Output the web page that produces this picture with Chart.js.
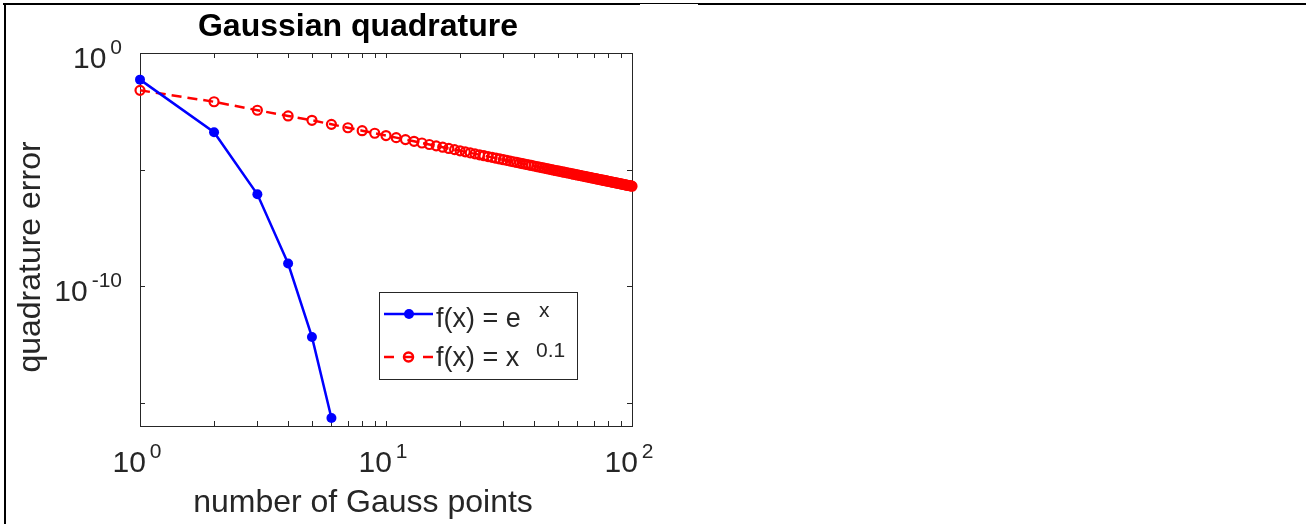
<!DOCTYPE html>
<html>
<head>
<meta charset="utf-8">
<script src="https://cdn.jsdelivr.net/npm/chart.js@4.4.1/dist/chart.umd.min.js"></script>
<style>
  html, body { margin: 0; padding: 0; background: #fff; overflow: hidden; }
  canvas { display: block; }
</style>
</head>
<body>
<canvas id="chart" width="1306" height="524"></canvas>
<script>
// --- data ---
const expN = [1, 2, 3, 4, 5, 6];
const expErr = [0.072, 4.0e-4, 8.7e-7, 9.3e-10, 6.6e-13, 2.2e-16];

const powN = [1, 2, 3, 4, 5, 6, 7, 8, 9, 10,
    11, 12, 13, 14, 15, 16, 17, 18, 19, 20,
    21, 22, 23, 24, 25, 26, 27, 28, 29, 30,
    31, 32, 33, 34, 35, 36, 37, 38, 39, 40,
    41, 42, 43, 44, 45, 46, 47, 48, 49, 50,
    51, 52, 53, 54, 55, 56, 57, 58, 59, 60,
    61, 62, 63, 64, 65, 66, 67, 68, 69, 70,
    71, 72, 73, 74, 75, 76, 77, 78, 79, 80,
    81, 82, 83, 84, 85, 86, 87, 88, 89, 90,
    91, 92, 93, 94, 95, 96, 97, 98, 99, 100];
const powErr = [0.025, 8.1e-3, 3.5e-3, 2.0e-3, 1.3e-3, 8.70e-4, 6.23e-4, 4.66e-4, 3.61e-4, 2.87e-4,
    2.34e-4, 1.93e-4, 1.63e-4, 1.38e-4, 1.19e-4, 1.04e-4, 9.09e-5, 8.03e-5, 7.14e-5, 6.39e-5,
    5.74e-5, 5.19e-5, 4.72e-5, 4.30e-5, 3.94e-5, 3.61e-5, 3.33e-5, 3.08e-5, 2.85e-5, 2.65e-5,
    2.47e-5, 2.30e-5, 2.16e-5, 2.02e-5, 1.90e-5, 1.78e-5, 1.68e-5, 1.59e-5, 1.50e-5, 1.42e-5,
    1.34e-5, 1.28e-5, 1.21e-5, 1.15e-5, 1.10e-5, 1.05e-5, 1.00e-5, 9.55e-6, 9.13e-6, 8.74e-6,
    8.37e-6, 8.03e-6, 7.70e-6, 7.40e-6, 7.11e-6, 6.84e-6, 6.58e-6, 6.33e-6, 6.10e-6, 5.88e-6,
    5.68e-6, 5.48e-6, 5.30e-6, 5.12e-6, 4.95e-6, 4.79e-6, 4.63e-6, 4.48e-6, 4.35e-6, 4.21e-6,
    4.08e-6, 3.96e-6, 3.85e-6, 3.73e-6, 3.63e-6, 3.52e-6, 3.42e-6, 3.33e-6, 3.24e-6, 3.15e-6,
    3.07e-6, 2.99e-6, 2.91e-6, 2.84e-6, 2.76e-6, 2.69e-6, 2.63e-6, 2.56e-6, 2.50e-6, 2.44e-6,
    2.38e-6, 2.33e-6, 2.27e-6, 2.22e-6, 2.17e-6, 2.12e-6, 2.07e-6, 2.03e-6, 1.99e-6, 1.94e-6];

// tick positions and labels
const xTicks = [1, 2, 3, 4, 5, 6, 7, 8, 9, 10, 20, 30, 40, 50, 60, 70, 80, 90, 100];
const xLabelVals = [1, 10, 100];
const xLabelExps = ['0', '1', '2'];
const yTicks = [1, 1e-5, 1e-10, 1e-15];
const yLabelVals = [1, 1e-10];
const yLabelExps = ['0', '-10'];

const titleText = 'Gaussian quadrature';
const xTitle = 'number of Gauss points';
const yTitle = 'quadrature error';
const legendNames = [['f(x) = e', 'x'], ['f(x) = x', '0.1']];

const FONT = '"Liberation Sans", Arial, Helvetica, sans-serif';
const AX = '#262626';

function toXY(xs, ys) {
    return xs.map((v, i) => ({ x: v, y: ys[i] }));
}

// MATLAB-like box, ticks, tick labels, titles and legend
const matlabAxes = {
    id: 'matlabAxes',
    beforeDatasetsDraw(chart) {
        const { ctx, chartArea: a, scales: { x, y } } = chart;
        ctx.save();
        ctx.strokeStyle = AX;
        ctx.lineWidth = 1;
        ctx.strokeRect(a.left + 0.5, a.top + 0.5, a.right - a.left, a.bottom - a.top);
        ctx.beginPath();
        xTicks.forEach(v => {
            const px = Math.round(x.getPixelForValue(v)) + 0.5;
            ctx.moveTo(px, a.bottom); ctx.lineTo(px, a.bottom - 5);
            ctx.moveTo(px, a.top); ctx.lineTo(px, a.top + 5);
        });
        yTicks.forEach(v => {
            const py = Math.round(y.getPixelForValue(v)) + 0.5;
            ctx.moveTo(a.left, py); ctx.lineTo(a.left + 5, py);
            ctx.moveTo(a.right, py); ctx.lineTo(a.right - 5, py);
        });
        ctx.stroke();
        ctx.restore();
    },
    afterDraw(chart) {
        const { ctx, chartArea: a, scales: { x, y } } = chart;
        ctx.save();
        ctx.fillStyle = AX;
        ctx.textBaseline = 'alphabetic';
        const big = '30px ' + FONT, sup = '21px ' + FONT;

        // x tick labels: 10^k centred on tick
        xLabelVals.forEach((v, i) => {
            ctx.font = big; const w1 = ctx.measureText('10').width;
            ctx.font = sup; const w2 = ctx.measureText(xLabelExps[i]).width;
            const gap = 4;
            const left = x.getPixelForValue(v) - (w1 + gap + w2) / 2 - 3;
            ctx.textAlign = 'left';
            ctx.font = big; ctx.fillText('10', left, a.bottom + 46);
            ctx.font = sup; ctx.fillText(xLabelExps[i], left + w1 + gap, a.bottom + 32);
        });

        // y tick labels, right aligned
        yLabelVals.forEach((v, i) => {
            const py = y.getPixelForValue(v);
            const right = 122, gap = 4;
            ctx.font = sup; const w2 = ctx.measureText(yLabelExps[i]).width;
            ctx.textAlign = 'left';
            ctx.fillText(yLabelExps[i], right - w2, py + 1);
            ctx.textAlign = 'right';
            ctx.font = big; ctx.fillText('10', right - w2 - gap, py + 15);
        });

        // axis titles
        ctx.font = '32px ' + FONT;
        ctx.textAlign = 'center';
        ctx.fillText(xTitle, 363, 512);
        ctx.save();
        ctx.translate(40, 257);
        ctx.rotate(-Math.PI / 2);
        ctx.fillText(yTitle, 0, 0);
        ctx.restore();

        // title
        ctx.fillStyle = '#000';
        ctx.font = 'bold 32px ' + FONT;
        ctx.fillText(titleText, 358, 36);

        // legend
        const lx = 379, ly = 292, lw = 198, lh = 87;
        ctx.fillStyle = '#fff';
        ctx.fillRect(lx, ly, lw, lh);
        ctx.strokeStyle = AX;
        ctx.lineWidth = 1;
        ctx.strokeRect(lx + 0.5, ly + 0.5, lw, lh);

        // blue entry
        ctx.strokeStyle = '#0000ff';
        ctx.fillStyle = '#0000ff';
        ctx.lineWidth = 2.5;
        ctx.beginPath(); ctx.moveTo(384, 314); ctx.lineTo(433, 314); ctx.stroke();
        ctx.beginPath(); ctx.arc(409, 314, 5, 0, Math.PI * 2); ctx.fill();

        // red entry
        ctx.strokeStyle = '#ff0000';
        ctx.beginPath(); ctx.moveTo(384, 357); ctx.lineTo(394, 357); ctx.stroke();
        ctx.beginPath(); ctx.moveTo(423, 357); ctx.lineTo(433, 357); ctx.stroke();
        ctx.beginPath(); ctx.moveTo(404, 357); ctx.lineTo(413, 357); ctx.stroke();
        ctx.beginPath(); ctx.arc(408.5, 357, 4.5, 0, Math.PI * 2); ctx.stroke();

        ctx.fillStyle = AX;
        ctx.textAlign = 'left';
        ctx.font = '27px ' + FONT;
        ctx.fillText(legendNames[0][0], 436, 327);
        ctx.fillText(legendNames[1][0], 436, 366);
        ctx.font = sup;
        ctx.fillText(legendNames[0][1], 539, 317);
        ctx.fillText(legendNames[1][1], 536, 357);

        // figure frame (top and left edges)
        ctx.fillStyle = '#000';
        ctx.fillRect(3, 3, 637, 2);
        ctx.fillRect(640, 3, 58, 1);
        ctx.fillRect(698, 3, 608, 2);
        ctx.fillRect(4, 3, 2, 521);
        ctx.restore();
    }
};

new Chart(document.getElementById('chart'), {
    type: 'line',
    data: {
        datasets: [
            {
                label: legendNames[0].join(''),
                data: toXY(expN, expErr),
                borderColor: '#0000ff',
                backgroundColor: '#0000ff',
                borderWidth: 2.5,
                pointRadius: 5,
                pointBorderWidth: 0,
                pointBackgroundColor: '#0000ff',
                tension: 0,
                clip: false
            },
            {
                label: legendNames[1].join(''),
                data: toXY(powN, powErr),
                borderColor: '#ff0000',
                backgroundColor: 'transparent',
                borderWidth: 2.5,
                borderDash: [10, 6],
                pointRadius: 4.5,
                pointBorderWidth: 2.2,
                pointBorderColor: '#ff0000',
                pointBackgroundColor: 'transparent',
                tension: 0,
                clip: false
            }
        ]
    },
    options: {
        responsive: false,
        animation: false,
        devicePixelRatio: 1,
        layout: { padding: { left: 140, top: 53, right: 674, bottom: 98 } },
        plugins: {
            legend: { display: false },
            tooltip: { enabled: false },
            title: { display: false }
        },
        scales: {
            x: { type: 'logarithmic', min: 1, max: 100, display: false },
            y: { type: 'logarithmic', min: 1e-16, max: 1, display: false }
        }
    },
    plugins: [matlabAxes]
});
</script>
</body>
</html>
